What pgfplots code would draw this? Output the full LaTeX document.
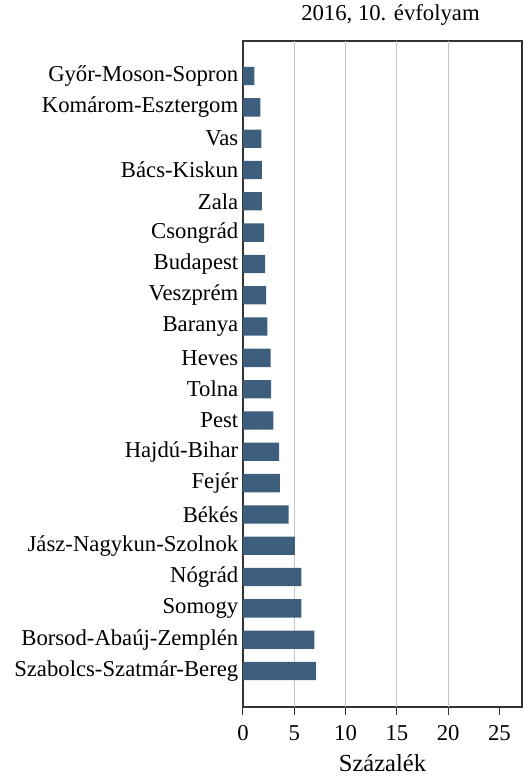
\documentclass[border=0pt]{standalone}
\usepackage{pgfplots}
\pgfplotsset{compat=1.18}
\usepackage{fontspec}
\setmainfont{Liberation Serif}

\definecolor{barblue}{RGB}{61,95,125}

\pgfplotstableread{
y val
0 7.10
1 6.95
2 5.70
3 5.70
4 5.05
5 4.45
6 3.60
7 3.52
8 2.95
9 2.75
10 2.70
11 2.38
12 2.26
13 2.15
14 2.05
15 1.85
16 1.85
17 1.80
18 1.70
19 1.10
}\megyek

\begin{document}
\fontsize{22.7}{27}\selectfont
\begin{tikzpicture}
\useasboundingbox (-243pt,-70pt) rectangle (280pt,707pt);
\begin{axis}[
    scale only axis,
    width=279pt, height=666pt,
    xmin=0, xmax=27.2,
    ymin=-1.15, ymax=20.12,
    xbar, bar width=18.3pt,
    xtick={0,5,...,25},
    xtick pos=bottom,
    tick align=outside,
    major tick length=8pt,
    ytick={0,...,19},
    yticklabels={Szabolcs-Szatmár-Bereg, Borsod-Abaúj-Zemplén, Somogy, Nógrád,
        Jász-Nagykun-Szolnok, Békés, Fejér, Hajdú-Bihar, Pest, Tolna, Heves,
        Baranya, Veszprém, Budapest, Csongrád, Zala, Bács-Kiskun, Vas,
        Komárom-Esztergom, Győr-Moson-Sopron},
    ytick style={draw=none},
    extra x ticks={5,10,15,20},
    extra x tick labels={},
    extra x tick style={grid=major, major tick length=0pt},
    grid style={gray!45, line width=0.8pt},
    axis line style={black!80, line width=1.2pt},
    xtick style={black!80, line width=1pt},
    /pgf/number format/assume math mode=true,
    tick label style={font=\fontsize{22.7}{27}\selectfont},
    xticklabel style={anchor=base, yshift=-25pt},
    yticklabel style={xshift=11pt},
    xlabel={Százalék},
    xlabel style={font=\fontsize{24.5}{29}\selectfont, at={(axis description cs:0.5,0)}, anchor=base, yshift=-64pt},
    title={2016, 10. évfolyam},
    title style={font=\fontsize{22.7}{27}\selectfont, at={(axis description cs:0.5,1)}, anchor=base, yshift=14pt, xshift=8pt},
]
\addplot[fill=barblue, draw=none] table[x=val, y=y] {\megyek};
\end{axis}
\end{tikzpicture}
\end{document}
